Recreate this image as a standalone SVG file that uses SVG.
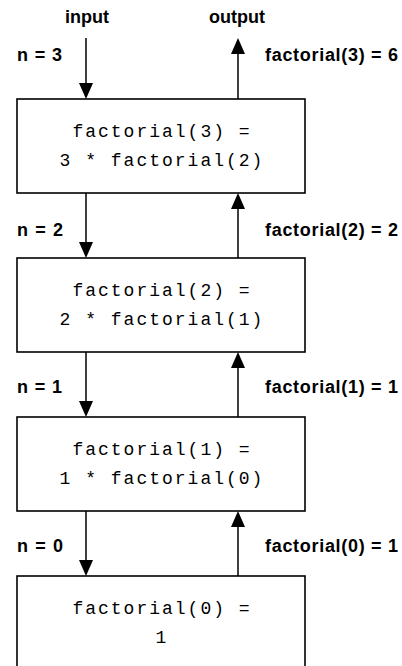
<svg xmlns="http://www.w3.org/2000/svg" width="402" height="666" viewBox="0 0 402 666">
  <style>
    .box { fill: #fff; stroke: #000; stroke-width: 1.6; }
    .code { font-family: "Liberation Mono", "Courier New", monospace; font-size: 18px; letter-spacing: 2px; text-anchor: middle; fill: #000; }
    .lbl { font-family: "Liberation Sans", Arial, sans-serif; font-weight: bold; font-size: 18px; fill: #000; }
    .io { text-anchor: middle; }
    .wire { stroke: #000; stroke-width: 1.5; fill: none; }
    .head { fill: #000; }
  </style>
  <rect width="402" height="666" fill="#fff"/>

  <!-- connectors: calls go down on the left, results return up on the right -->
  <g id="connectors">
    <line class="wire" x1="86" y1="38" x2="86" y2="84"/>
    <path class="head" d="M79,83 L93,83 L86,99 Z"/>
    <line class="wire" x1="238" y1="99" x2="238" y2="52"/>
    <path class="head" d="M238,38 L245,54 L231,54 Z"/>

    <line class="wire" x1="86" y1="193" x2="86" y2="243"/>
    <path class="head" d="M79,242 L93,242 L86,258 Z"/>
    <line class="wire" x1="238" y1="258" x2="238" y2="207"/>
    <path class="head" d="M238,193 L245,209 L231,209 Z"/>

    <line class="wire" x1="86" y1="352" x2="86" y2="402"/>
    <path class="head" d="M79,401 L93,401 L86,417 Z"/>
    <line class="wire" x1="238" y1="417" x2="238" y2="366"/>
    <path class="head" d="M238,352 L245,368 L231,368 Z"/>

    <line class="wire" x1="86" y1="511" x2="86" y2="561"/>
    <path class="head" d="M79,560 L93,560 L86,576 Z"/>
    <line class="wire" x1="238" y1="576" x2="238" y2="525"/>
    <path class="head" d="M238,511 L245,527 L231,527 Z"/>
  </g>

  <!-- connector labels -->
  <g id="labels" class="lbl">
    <text class="io" x="87" y="23">input</text>
    <text class="io" x="237" y="23">output</text>
    <text x="17" y="61" textLength="45" lengthAdjust="spacing">n = 3</text>
    <text x="265" y="61" textLength="133" lengthAdjust="spacing">factorial(3) = 6</text>
    <text x="17" y="236" textLength="46" lengthAdjust="spacing">n = 2</text>
    <text x="265" y="236" textLength="133" lengthAdjust="spacing">factorial(2) = 2</text>
    <text x="17" y="393" textLength="45" lengthAdjust="spacing">n = 1</text>
    <text x="265" y="393" textLength="133" lengthAdjust="spacing">factorial(1) = 1</text>
    <text x="17" y="552" textLength="46" lengthAdjust="spacing">n = 0</text>
    <text x="265" y="552" textLength="133" lengthAdjust="spacing">factorial(0) = 1</text>
  </g>

  <!-- call frames -->
  <g id="frame3">
    <rect class="box" x="17" y="99" width="288" height="94"/>
    <text class="code" x="162" y="137">factorial(3) =</text>
    <text class="code" x="162" y="166">3 * factorial(2)</text>
  </g>
  <g id="frame2">
    <rect class="box" x="17" y="258" width="288" height="94"/>
    <text class="code" x="162" y="296">factorial(2) =</text>
    <text class="code" x="162" y="325">2 * factorial(1)</text>
  </g>
  <g id="frame1">
    <rect class="box" x="17" y="417" width="288" height="94"/>
    <text class="code" x="162" y="455">factorial(1) =</text>
    <text class="code" x="162" y="484">1 * factorial(0)</text>
  </g>
  <g id="frame0">
    <rect class="box" x="17" y="576" width="288" height="110"/>
    <text class="code" x="162" y="614">factorial(0) =</text>
    <text class="code" x="162" y="643">1</text>
  </g>
</svg>
